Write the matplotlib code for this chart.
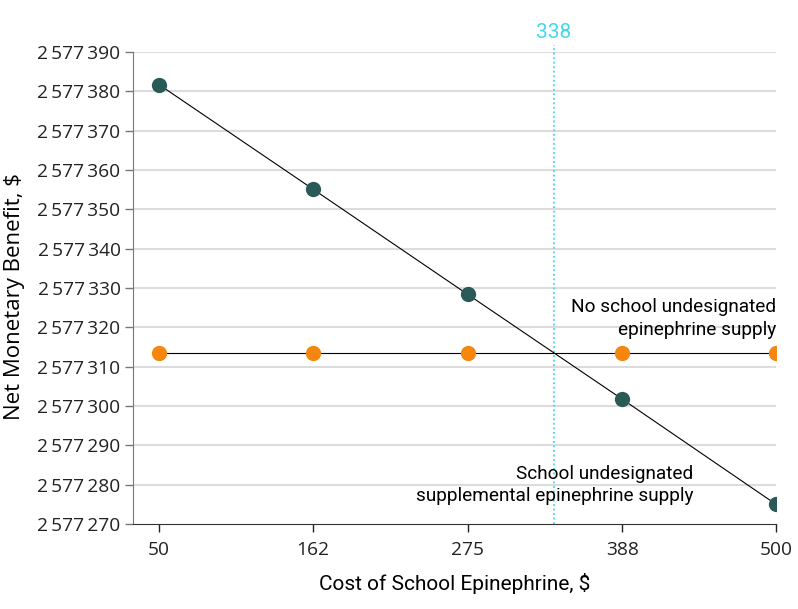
import matplotlib.pyplot as plt
from matplotlib.ticker import FixedLocator

# cost of school epinephrine, $
cost = [50, 162, 275, 388, 500]
# net monetary benefit, $
supply = [2577381.7, 2577355.2, 2577328.4, 2577301.7, 2577275.0]
no_supply = [2577313.4, 2577313.4, 2577313.4, 2577313.4, 2577313.4]
threshold = 338

y_ticks = list(range(2577270, 2577391, 10))

def fmt(v):
    s = "{:,}".format(int(v))
    return s.replace(",", "\u2009")

plt.rcParams['font.family'] = ['Open Sans', 'DejaVu Sans']
narrow = ['Roboto', 'DejaVu Sans']

fig = plt.figure(figsize=(7.98, 6.09), dpi=100)
ax = fig.add_axes([0.1667, 0.1396, 0.8057, 0.775])

for yt in y_ticks[1:]:
    ax.axhline(yt, color='#dcdcdc', lw=1.5, zorder=0)

ax.plot(cost, no_supply, color='black', lw=0.8, zorder=2)
ax.plot(cost, no_supply, 'o', color='#f5870f', ms=11, mec='none', zorder=3)
ax.plot(cost, supply, color='black', lw=0.8, zorder=2)
ax.plot(cost, supply, 'o', color='#2a5a58', ms=11, mec='none', zorder=3)

ax.plot([threshold, threshold], [2577270, 2577391.8], color='#45d8e8', lw=1.3,
        ls=(0, (1, 1.5)), clip_on=False, zorder=1)
ax.text(threshold, 2577392.6, str(threshold), color='#45d8e8', ha='center',
        va='bottom', fontsize=15, family=narrow)

ax.text(500, 2577317.0, "No school undesignated\nepinephrine supply", ha='right',
        va='bottom', fontsize=13.7, linespacing=1.35, family=narrow)
ax.text(440, 2577274.7, "School undesignated\nsupplemental epinephrine supply", ha='right',
        va='bottom', fontsize=13.7, linespacing=1.35, family=narrow)

ax.set_xlim(31, 500)
ax.set_ylim(2577270, 2577390)
ax.xaxis.set_major_locator(FixedLocator(cost))
ax.set_xticklabels([str(c) for c in cost])
ax.yaxis.set_major_locator(FixedLocator(y_ticks))
ax.set_yticklabels([fmt(v) for v in y_ticks])

for side in ['top', 'right']:
    ax.spines[side].set_visible(False)
ax.spines['left'].set_color('#777777')
ax.spines['bottom'].set_color('#333333')
ax.tick_params(axis='both', direction='out', length=6, width=1, labelsize=13.8,
               colors='#222222')
ax.tick_params(axis='x', pad=6)
ax.tick_params(axis='y', color='#777777', pad=3)

ax.set_xlabel("Cost of School Epinephrine, $", fontsize=15, labelpad=10, family=narrow)
ax.set_ylabel("Net Monetary Benefit, $", fontsize=16)
ax.yaxis.set_label_coords(-0.168, 0.481)

fig.savefig("out.png", dpi=100)
